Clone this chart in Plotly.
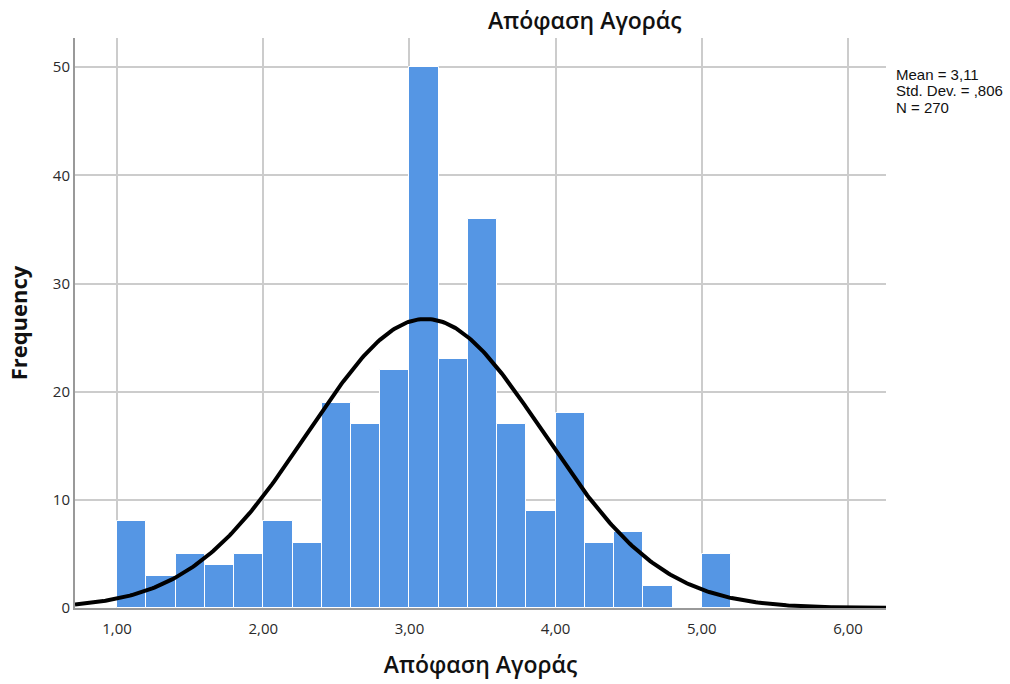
import numpy as np
import plotly.graph_objects as go

# Histogram of purchase decision scores (bin width 0.2)
bin_starts = [1.0, 1.2, 1.4, 1.6, 1.8, 2.0, 2.2, 2.4, 2.6, 2.8, 3.0,
              3.2, 3.4, 3.6, 3.8, 4.0, 4.2, 4.4, 4.6, 4.8, 5.0]
frequencies = [8, 3, 5, 4, 5, 8, 6, 19, 17, 22, 50,
               23, 36, 17, 9, 18, 6, 7, 2, 0, 5]
bin_width = 0.2

mean_value = 3.11
std_dev = 0.806
n_obs = 270

x_ticks = [1, 2, 3, 4, 5, 6]
x_tick_labels = ["1,00", "2,00", "3,00", "4,00", "5,00", "6,00"]
y_ticks = [0, 10, 20, 30, 40, 50]

stats_lines = ["Mean = 3,11", "Std. Dev. = ,806", f"N = {n_obs}"]

x_range = [0.712, 6.26]
y_range = [0, 52.7]

centers = [s + bin_width / 2 for s in bin_starts]

# Normal curve scaled to the histogram counts
xs = np.linspace(x_range[0], x_range[1], 400)
ys = n_obs * bin_width * np.exp(-0.5 * ((xs - mean_value) / std_dev) ** 2) / (std_dev * np.sqrt(2 * np.pi))

fig = go.Figure()
fig.add_trace(go.Bar(
    x=centers, y=frequencies, width=bin_width,
    marker=dict(color="#5596e4", line=dict(color="white", width=1)),
    hoverinfo="x+y",
))
fig.add_trace(go.Scatter(
    x=xs, y=ys, mode="lines",
    line=dict(color="black", width=4),
    hoverinfo="skip",
))

grid_col = "#cccccc"
fig.update_layout(
    width=1010, height=684,
    margin=dict(l=75, r=124, t=38, b=76),
    plot_bgcolor="white", paper_bgcolor="white",
    showlegend=False,
    bargap=0,
    font=dict(family="Open Sans", color="#222222"),
    xaxis=dict(
        range=x_range, tickvals=x_ticks, ticktext=x_tick_labels,
        automargin=False,
        showgrid=True, gridcolor=grid_col, gridwidth=1.5,
        showline=True, linecolor="#999999", linewidth=2,
        ticks="outside", ticklen=6, tickcolor="rgba(0,0,0,0)", zeroline=False,
        tickfont=dict(size=15, color="#2a2a2a"),
        title=dict(text="Απόφαση Αγοράς", font=dict(size=23, color="#111111", weight=600), standoff=20),
    ),
    yaxis=dict(
        range=y_range, tickvals=y_ticks,
        automargin=False,
        showgrid=True, gridcolor=grid_col, gridwidth=1.5,
        showline=True, linecolor="#999999", linewidth=2,
        ticks="", zeroline=False,
        tickfont=dict(size=15, color="#2a2a2a"),
        title=dict(text="Frequency", font=dict(size=22, color="#111111", weight=700), standoff=19),
    ),
)

plot_h = 684 - 38 - 76
fig.add_annotation(
    text="Απόφαση Αγοράς", xref="paper", yref="paper",
    x=(585 - 75) / (1010 - 75 - 124), y=1, yshift=18,
    xanchor="center", yanchor="middle", showarrow=False,
    font=dict(size=23, color="#111111", family="Open Sans", weight=600),
)
for i, line in enumerate(stats_lines):
    fig.add_annotation(
        text=line, xref="paper", yref="paper",
        x=1, y=(608 - 75 - 16 * i) / plot_h,
        xanchor="left", yanchor="middle", xshift=8, showarrow=False, align="left",
        font=dict(size=15, color="#111111", family="Liberation Sans"),
    )

fig.write_html("out.html")
